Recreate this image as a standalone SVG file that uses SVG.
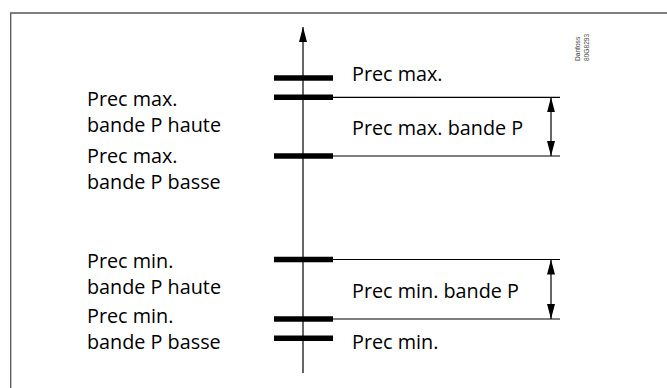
<svg xmlns="http://www.w3.org/2000/svg" width="667" height="388" viewBox="0 0 667 388">
  <style>
    .frame { fill: none; stroke: #555; stroke-width: 1.3; }
    .bar { stroke: #000; stroke-width: 5.5; }
    .ln { stroke: #000; stroke-width: 1.2; fill: none; }
    .lbl { font-family: "Open Sans", "Liberation Sans", sans-serif; font-size: 19.8px; fill: #000; }
    .tiny { font-family: "Liberation Sans", Arial, sans-serif; font-size: 6.6px; fill: #444; }
  </style>
  <defs>
    <marker id="ah" viewBox="0 0 15 8" refX="15" refY="4" markerUnits="userSpaceOnUse" markerWidth="15" markerHeight="8" orient="auto-start-reverse">
      <path d="M0,0 L15,4 L0,8 z" fill="#000"/>
    </marker>
  </defs>
  <rect width="667" height="388" fill="#fff"/>
  <path class="frame" d="M10.7,388 V13 H667"/>

  <g id="axis">
    <line class="ln" x1="303" y1="373" x2="303" y2="27" marker-end="url(#ah)"/>
  </g>

  <g id="prec-max">
    <line class="bar" x1="274" y1="78" x2="333" y2="78"/>
    <text class="lbl" x="352" y="80.7">Prec max.</text>
  </g>
  <g id="prec-max-bande-haute">
    <line class="bar" x1="274" y1="97.3" x2="333" y2="97.3"/>
    <text class="lbl" x="87" y="106">Prec max.</text>
    <text class="lbl" x="87" y="132">bande P haute</text>
  </g>
  <g id="prec-max-bande-basse">
    <line class="bar" x1="274" y1="156" x2="333" y2="156"/>
    <text class="lbl" x="87" y="163">Prec max.</text>
    <text class="lbl" x="87" y="189">bande P basse</text>
  </g>
  <g id="prec-min-bande-haute">
    <line class="bar" x1="274" y1="259.5" x2="333" y2="259.5"/>
    <text class="lbl" x="87" y="267.5">Prec min.</text>
    <text class="lbl" x="87" y="293.5">bande P haute</text>
  </g>
  <g id="prec-min-bande-basse">
    <line class="bar" x1="274" y1="319" x2="333" y2="319"/>
    <text class="lbl" x="87" y="322.5">Prec min.</text>
    <text class="lbl" x="87" y="349">bande P basse</text>
  </g>
  <g id="prec-min">
    <line class="bar" x1="274" y1="338.3" x2="333" y2="338.3"/>
    <text class="lbl" x="352" y="349">Prec min.</text>
  </g>

  <g id="connectors">
    <line class="ln" x1="333" y1="97.3" x2="560" y2="97.3"/>
    <line class="ln" x1="333" y1="156" x2="560" y2="156"/>
    <line class="ln" x1="551" y1="97.3" x2="551" y2="156" marker-start="url(#ah)" marker-end="url(#ah)"/>
    <line class="ln" x1="333" y1="259.5" x2="560" y2="259.5"/>
    <line class="ln" x1="333" y1="319" x2="560" y2="319"/>
    <line class="ln" x1="551" y1="259.5" x2="551" y2="319" marker-start="url(#ah)" marker-end="url(#ah)"/>
  </g>

  <g id="band-labels">
    <text class="lbl" x="352" y="135">Prec max. bande P</text>
    <text class="lbl" x="352" y="298">Prec min. bande P</text>
  </g>

  <g id="ref-code">
    <text class="tiny" transform="translate(580,61) rotate(-90)">Danfoss</text>
    <text class="tiny" transform="translate(588.5,61) rotate(-90)">80G8293</text>
  </g>
</svg>
